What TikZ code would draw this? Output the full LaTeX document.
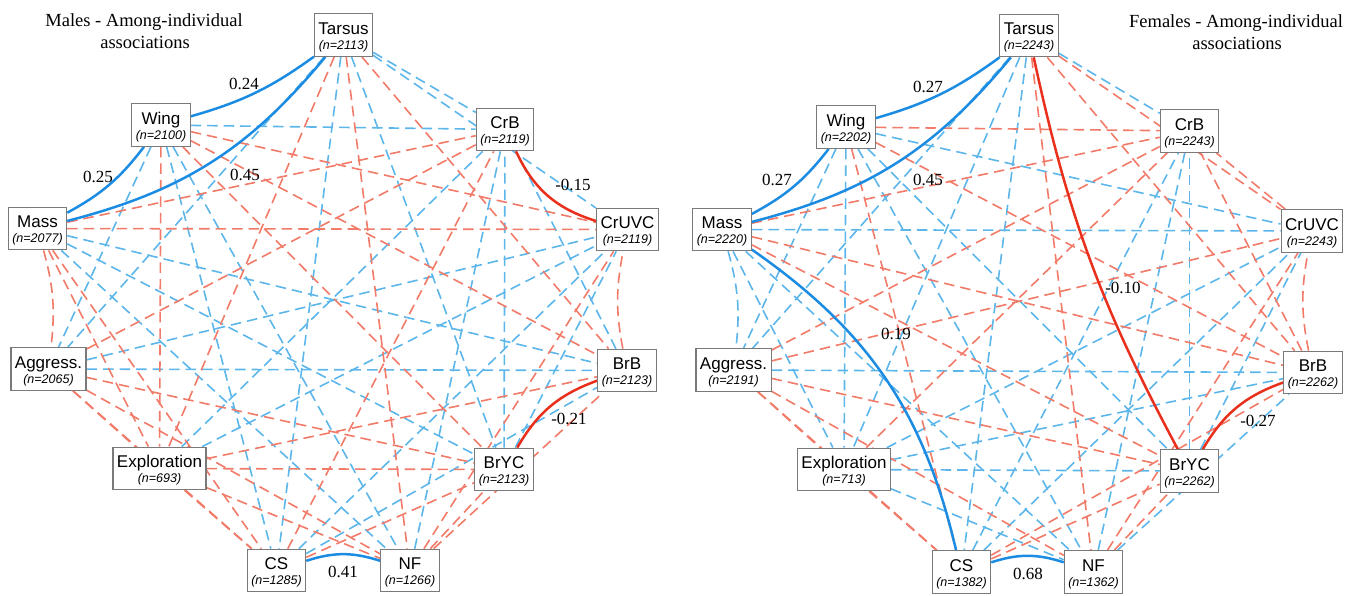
\documentclass[tikz,border=0pt]{standalone}
\usepackage{fontspec}
\usetikzlibrary{backgrounds}
\setmainfont{Liberation Serif}
\newfontfamily\boxfont{Liberation Sans}
\definecolor{posline}{HTML}{1C8CE3}
\definecolor{negline}{HTML}{E8301C}
\definecolor{posdash}{HTML}{5CB6EA}
\definecolor{negdash}{HTML}{F27A68}
\definecolor{boxline}{HTML}{7A7A7A}
\newcommand{\trait}[2]{\rule{0pt}{16pt}#1\\[-3pt]{\fontsize{12.5}{13}\selectfont\itshape (n=#2)}}
\begin{document}
\begin{tikzpicture}[x=1pt,y=-1pt,
  trait/.style={draw=boxline,line width=1.1pt,fill=white,align=center,
    inner xsep=4pt,inner ysep=4.5pt,font=\boxfont\fontsize{17}{18}\selectfont},
  coef/.style={font=\fontsize{17}{20}\selectfont,inner sep=0pt},
  heading/.style={font=\fontsize{18.5}{22}\selectfont,inner sep=0pt,anchor=base},
  posdashed/.style={posdash,line width=1.6pt,dash pattern=on 10.5pt off 6pt},
  negdashed/.style={negdash,line width=1.6pt,dash pattern=on 10.5pt off 6pt},
  possolid/.style={posline,line width=2.5pt},
  negsolid/.style={negline,line width=2.5pt}]
\useasboundingbox (0,0) rectangle (1357,595);

% males
\node[trait] (mTarsus) at (343.5,35) {\trait{Tarsus}{2113}};
\node[trait] (mWing) at (161,125) {\trait{Wing}{2100}};
\node[trait] (mMass) at (37.5,228.5) {\trait{Mass}{2077}};
\node[trait] (mAggr) at (48.5,369) {\trait{Aggress.}{2065}};
\node[trait] (mExpl) at (159.5,468.5) {\trait{Exploration}{693}};
\node[trait] (mCS) at (276.5,570.5) {\trait{CS}{1285}};
\node[trait] (mNF) at (410,570.5) {\trait{NF}{1266}};
\node[trait] (mBrYC) at (504,469.5) {\trait{BrYC}{2123}};
\node[trait] (mBrB) at (627,370.5) {\trait{BrB}{2123}};
\node[trait] (mCrUVC) at (627.5,229.5) {\trait{CrUVC}{2119}};
\node[trait] (mCrB) at (505,129.5) {\trait{CrB}{2119}};

\begin{scope}[on background layer]
\foreach \p/\q in {mTarsus/mAggr,mTarsus/mCS,mTarsus/mBrYC,mTarsus/mCrUVC,mTarsus/mCrB,
  mWing/mAggr,mWing/mCS,mWing/mCrB,mWing/mNF,mMass/mNF,mMass/mBrYC,mMass/mBrB,
  mAggr/mBrB,mAggr/mCrUVC,mExpl/mCrUVC,mExpl/mCrB,mCS/mCrUVC,mNF/mCrB,
  mBrYC/mCrUVC,mBrYC/mCrB,mBrB/mCrB,mCS/mBrB}
  \draw[posdashed] (\p) -- (\q);
\foreach \p/\q in {mTarsus/mExpl,mTarsus/mNF,mTarsus/mBrB,
  mWing/mExpl,mWing/mBrYC,mWing/mBrB,mWing/mCrUVC,
  mMass/mExpl,mMass/mCS,mMass/mCrUVC,mMass/mCrB,
  mAggr/mExpl,mAggr/mCS,mAggr/mNF,mAggr/mBrYC,mAggr/mCrB,
  mExpl/mCS,mExpl/mNF,mExpl/mBrYC,mExpl/mBrB,
  mCS/mBrYC,mCS/mCrB,mNF/mBrYC,mNF/mBrB,mNF/mCrUVC}
  \draw[negdashed] (\p) -- (\q);
\draw[negdashed] (mMass) to[bend left=11] (mAggr);
\draw[negdashed] (mBrB) to[bend left=11] (mCrUVC);

\draw[possolid] (mTarsus) to[bend left=10] (mWing);
\draw[possolid] (mWing) to[bend left=12] (mMass);
\draw[possolid] (mTarsus) to[bend left=18] (mMass);
\draw[negsolid] (mCrUVC) to[bend left=24] (mCrB);
\draw[negsolid] (mBrYC) to[bend left=20] (mBrB);
\draw[possolid] (mCS) to[bend left=18] (mNF);
\end{scope}

\node[coef] (mTWlab) at (244,84) {0.24};
\node[coef] (mWMlab) at (98,177) {0.25};
\node[coef] (mTMlab) at (245,175) {0.45};
\node[coef] (mCUlab) at (573,185) {-0.15};
\node[coef] (mBYlab) at (569,419) {-0.21};
\node[coef] (mCNlab) at (343,572) {0.41};
\node[heading] (mHeadA) at (144,26.5) {Males - Among-individual};
\node[heading] (mHeadB) at (145,48.5) {associations};

% females
\node[trait] (fTarsus) at (1029,35.5) {\trait{Tarsus}{2243}};
\node[trait] (fWing) at (846,127) {\trait{Wing}{2202}};
\node[trait] (fMass) at (722,229.5) {\trait{Mass}{2220}};
\node[trait] (fAggr) at (733.5,370) {\trait{Aggress.}{2191}};
\node[trait] (fExpl) at (844,469.5) {\trait{Exploration}{713}};
\node[trait] (fCS) at (961.5,572) {\trait{CS}{1382}};
\node[trait] (fNF) at (1093.5,572) {\trait{NF}{1362}};
\node[trait] (fBrYC) at (1189.5,471) {\trait{BrYC}{2262}};
\node[trait] (fBrB) at (1313,372.5) {\trait{BrB}{2262}};
\node[trait] (fCrUVC) at (1312,231) {\trait{CrUVC}{2243}};
\node[trait] (fCrB) at (1189.5,131) {\trait{CrB}{2243}};

\begin{scope}[on background layer]
\foreach \p/\q in {fTarsus/fAggr,fTarsus/fExpl,fTarsus/fCS,fTarsus/fCrB,
  fWing/fAggr,fWing/fExpl,fWing/fNF,fWing/fBrYC,fWing/fCrUVC,
  fMass/fExpl,fMass/fNF,fMass/fCrUVC,fAggr/fBrB,
  fExpl/fNF,fExpl/fBrYC,fExpl/fBrB,fExpl/fCrUVC,
  fCS/fCrUVC,fCS/fCrB,fNF/fBrB,fNF/fCrB,fBrYC/fCrUVC,fBrYC/fCrB}
  \draw[posdashed] (\p) -- (\q);
\foreach \p/\q in {fTarsus/fNF,fTarsus/fBrB,fTarsus/fCrUVC,
  fWing/fCS,fWing/fBrB,fWing/fCrB,fMass/fBrYC,fMass/fBrB,fMass/fCrB,
  fAggr/fExpl,fAggr/fCS,fAggr/fNF,fAggr/fBrYC,fAggr/fCrUVC,fAggr/fCrB,
  fExpl/fCS,fExpl/fCrB,fCS/fBrYC,fCS/fBrB,fNF/fBrYC,fNF/fCrUVC,
  fBrB/fCrB,fCrUVC/fCrB}
  \draw[negdashed] (\p) -- (\q);
\draw[posdashed] (fMass) to[bend left=11] (fAggr);
\draw[negdashed] (fBrB) to[bend left=11] (fCrUVC);

\draw[possolid] (fTarsus) to[bend left=10] (fWing);
\draw[possolid] (fWing) to[bend left=12] (fMass);
\draw[possolid] (fTarsus) to[bend left=18] (fMass);
\draw[possolid] (fMass) to[bend left=21] (fCS);
\draw[negsolid] (fBrYC) to[bend left=8] (fTarsus);
\draw[negsolid] (fBrYC) to[bend left=20] (fBrB);
\draw[possolid] (fCS) to[bend left=18] (fNF);
\end{scope}

\node[coef] (fTWlab) at (928,87) {0.27};
\node[coef] (fWMlab) at (777,180) {0.27};
\node[coef] (fTMlab) at (928,180) {0.45};
\node[coef] (fTYlab) at (1123,288) {-0.10};
\node[coef] (fMClab) at (896,334) {0.19};
\node[coef] (fBYlab) at (1258,421) {-0.27};
\node[coef] (fCNlab) at (1028,574) {0.68};
\node[heading] (fHeadA) at (1236,27) {Females - Among-individual};
\node[heading] (fHeadB) at (1237,49) {associations};
\end{tikzpicture}
\end{document}
